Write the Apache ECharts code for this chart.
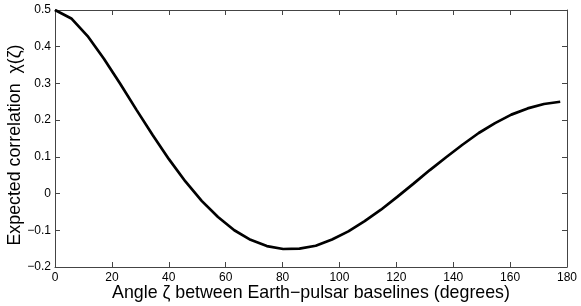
<!DOCTYPE html>
<html><head><meta charset="utf-8">
<script src="https://cdn.jsdelivr.net/npm/echarts@6/dist/echarts.min.js"></script>
<style>html,body{margin:0;padding:0;background:#fff}#c{width:581px;height:306px}</style>
</head><body><div id="c"></div>
<script>
const anglesDeg = [0, 5.73, 11.46, 17.19, 22.92, 28.65, 34.38, 40.11, 45.84, 51.57, 57.30, 63.03, 68.75, 74.48, 80.21, 85.94, 91.67, 97.40, 103.13, 108.86, 114.59, 120.32, 126.05, 131.78, 137.51, 143.24, 148.97, 154.70, 160.43, 166.16, 171.89, 177.62];
const correlation = [0.500, 0.477, 0.429, 0.367, 0.299, 0.228, 0.159, 0.093, 0.033, -0.020, -0.064, -0.100, -0.126, -0.143, -0.151, -0.150, -0.142, -0.125, -0.103, -0.075, -0.044, -0.009, 0.027, 0.064, 0.099, 0.133, 0.165, 0.192, 0.215, 0.232, 0.244, 0.250];
const xTitle = 'Angle \u03b6 between Earth\u2212pulsar baselines (degrees)';
const yTitle = 'Expected correlation  \u03c7(\u03b6)';

const font = 'Liberation Sans, Arial, Helvetica, sans-serif';
const axisColor = '#444';
const fmt = v => String(+v.toFixed(2)).replace('-', '\u2212');
const chart = echarts.init(document.getElementById('c'), null, {renderer: 'canvas'});
const baseX = {type: 'value', min: 0, max: 180, interval: 20,
  axisLine: {show: true, onZero: false, lineStyle: {color: axisColor, width: 1}},
  axisTick: {show: true, inside: true, length: 5, lineStyle: {color: axisColor}},
  splitLine: {show: false}};
const baseY = {type: 'value', min: -0.2, max: 0.5, interval: 0.1,
  axisLine: {show: true, onZero: false, lineStyle: {color: axisColor, width: 1}},
  axisTick: {show: true, inside: true, length: 5, lineStyle: {color: axisColor}},
  splitLine: {show: false}};
chart.setOption({
  animation: false,
  grid: {left: 55, right: 14, top: 10, bottom: 39, containLabel: false, outerBoundsMode: 'none'},
  xAxis: [
    Object.assign({}, baseX, {position: 'bottom',
      axisLabel: {show: true, color: '#000', fontSize: 12, fontFamily: font, margin: 5, formatter: fmt},
      name: xTitle, nameLocation: 'middle', nameGap: 17, nameMoveOverlap: false,
      nameTextStyle: {color: '#000', fontSize: 17.8, fontFamily: font}}),
    Object.assign({}, baseX, {position: 'top', axisLabel: {show: false}})
  ],
  yAxis: [
    Object.assign({}, baseY, {position: 'left',
      axisLabel: {show: true, color: '#000', fontSize: 12, fontFamily: font, margin: 4, formatter: fmt},
      name: yTitle, nameLocation: 'middle', nameGap: 31, nameMoveOverlap: false,
      nameTextStyle: {color: '#000', fontSize: 17.8, fontFamily: font, padding: [0, 13, 0, 0]}}),
    Object.assign({}, baseY, {position: 'right', axisLabel: {show: false}})
  ],
  series: [{type: 'line', xAxisIndex: 0, yAxisIndex: 0,
    data: anglesDeg.map((a, i) => [a, correlation[i]]),
    showSymbol: false, symbol: 'none', smooth: false,
    lineStyle: {color: '#000', width: 2.7}}]
});
</script></body></html>
